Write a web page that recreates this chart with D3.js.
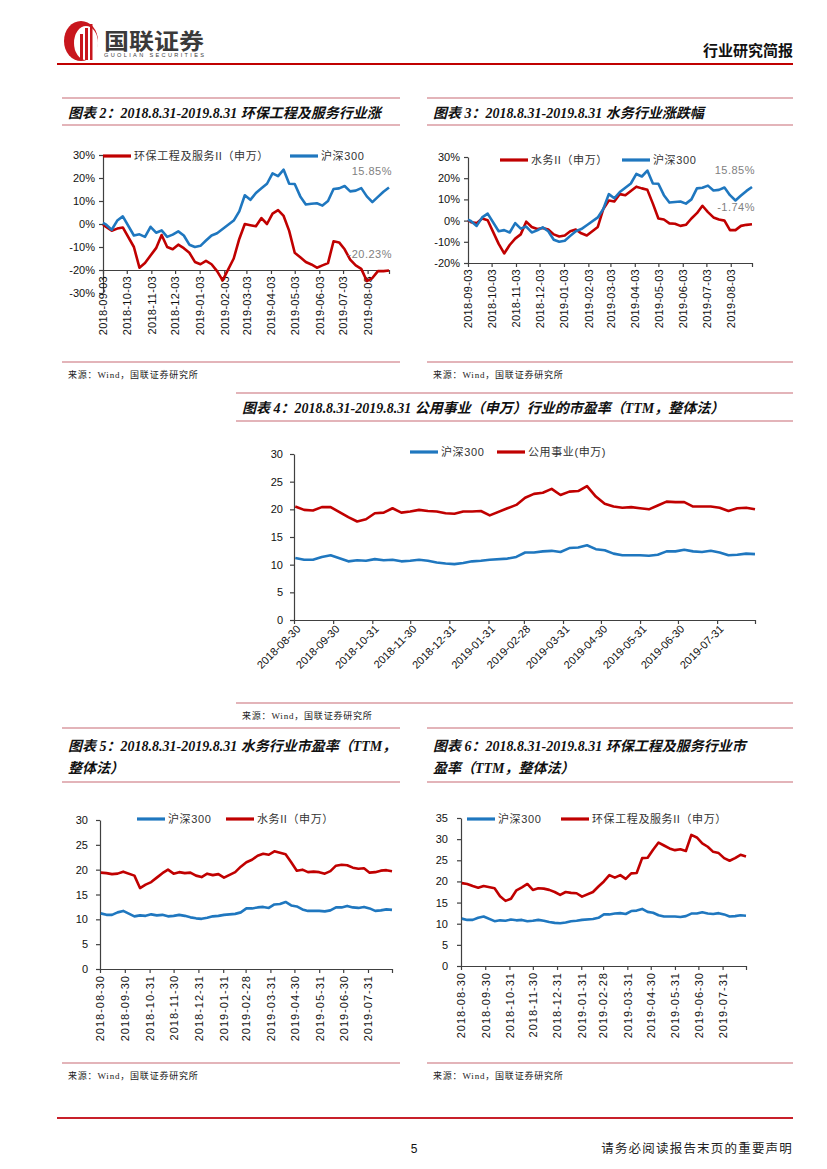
<!DOCTYPE html>
<html>
<head>
<meta charset="utf-8">
<script src="https://cdn.jsdelivr.net/npm/d3@7"></script>
<style>
body { margin: 0; background: #fff; }
svg text { font-family: "Liberation Sans", Arial, "Noto Sans CJK SC", sans-serif; }
</style>
</head>
<body>
<svg id="page" width="827" height="1169"></svg>
<script>
// weekly closes (Fridays, holiday weeks skipped)
var weekEnds = ['2018-09-07', '2018-09-14', '2018-09-21', '2018-09-28', '2018-10-12', '2018-10-19', '2018-10-26',
    '2018-11-02', '2018-11-09', '2018-11-16', '2018-11-23', '2018-11-30', '2018-12-07', '2018-12-14', '2018-12-21',
    '2018-12-28', '2019-01-04', '2019-01-11', '2019-01-18', '2019-01-25', '2019-02-01', '2019-02-15', '2019-02-22',
    '2019-03-01', '2019-03-08', '2019-03-15', '2019-03-22', '2019-03-29', '2019-04-05', '2019-04-12', '2019-04-19',
    '2019-04-26', '2019-05-03', '2019-05-10', '2019-05-17', '2019-05-24', '2019-05-31', '2019-06-07', '2019-06-14',
    '2019-06-21', '2019-06-28', '2019-07-05', '2019-07-12', '2019-07-19', '2019-07-26', '2019-08-02', '2019-08-09',
    '2019-08-16', '2019-08-23', '2019-08-30'];
var retDates = ['2018-09-03'].concat(weekEnds);
var peDates = ['2018-08-31'].concat(weekEnds);

// cumulative return, %
var hs300Ret = [0.5, -0.3, -2.5, 1.5, 3.3, -5.0, -4.5, -5.6, -1.2, -3.8, -2.8, -5.6, -4.6, -3.2, -5.0, -9.0, -10.0,
    -9.5, -7.2, -5.0, -4.0, -2.2, 1.5, 5.5, 12.5, 10.5, 13.5, 15.5, 17.5, 22.0, 20.8, 23.6, 17.5, 17.4, 12.0, 8.5,
    8.8, 9.0, 8.0, 10.0, 15.2, 15.5, 16.5, 14.2, 14.5, 15.6, 12.0, 9.5, 11.8, 14.0, 15.85];
var envRet = [-0.3, -1.3, -2.9, -2.0, -1.5, -10, -19, -17, -13.7, -10.5, -4.8, -10, -11, -9, -10.5, -12.5, -16.5,
    -17.5, -16, -17.5, -20.5, -24.5, -15, -6.5, 0, -0.5, -1, 2.6, 0, 4.5, 6.0, 3.5, -3, -12.5, -14.5, -16.5, -17.6,
    -19, -18, -17, -7.5, -8, -11, -15.5, -18, -19.5, -24.8, -23.5, -20.5, -20.5, -20.23];
var waterRet = [0.3, -0.8, -1.2, 1.0, 0.2, -11, -15.5, -11.5, -8.5, -6.5, -0.5, -3, -4, -3.5, -4.2, -6.5, -7.5, -7,
    -5, -4.2, -6, -7, -3, 5.5, 9.5, 9, 12.5, 12, 14, 16, 15.2, 14.5, 8, 1, 0.5, -1.3, -1.5, -2.5, -2, 1, 3.5, 7, 4,
    1.5, 0.5, 0, -4.5, -4.5, -2.5, -2, -1.74];

// PE (TTM)
var hs300Pe = [11.2, 10.9, 10.9, 11.4, 11.7, 10.6, 10.8, 10.7, 11.0, 10.8, 10.9, 10.6, 10.7, 10.9, 10.7, 10.4, 10.2,
    10.1, 10.3, 10.6, 10.7, 10.9, 11.1, 11.4, 12.2, 12.2, 12.4, 12.5, 12.3, 13.0, 13.1, 13.5, 12.8, 12.6, 12.0, 11.7,
    11.7, 11.7, 11.6, 11.8, 12.4, 12.4, 12.7, 12.4, 12.3, 12.5, 12.2, 11.7, 11.8, 12.0, 11.9];
var utilPe = [20.5, 19.9, 19.8, 20.4, 20.4, 18.6, 17.8, 18.2, 19.3, 19.4, 20.2, 19.4, 19.6, 19.9, 19.7, 19.6, 19.3,
    19.2, 19.6, 19.6, 19.7, 18.9, 20.2, 20.8, 22.1, 22.8, 23.0, 23.7, 22.6, 23.2, 23.3, 24.2, 22.3, 21.0, 20.5, 20.3,
    20.4, 20.2, 20.0, 20.7, 21.4, 21.3, 21.3, 20.5, 20.5, 20.5, 20.3, 19.7, 20.2, 20.3, 20.0];
var waterPe = [19.4, 19.3, 19.1, 19.2, 19.6, 18.8, 16.3, 17.0, 17.5, 18.4, 19.3, 20.0, 19.2, 19.5, 19.3, 19.4, 18.8,
    18.5, 19.2, 18.9, 19.1, 18.4, 19.5, 20.6, 21.5, 22.0, 22.8, 23.2, 23.0, 23.7, 23.4, 23.1, 21.5, 19.8, 20.0, 19.5,
    19.6, 19.5, 19.2, 19.7, 20.8, 21.0, 20.9, 20.4, 20.2, 20.3, 19.4, 19.5, 19.8, 19.9, 19.7];
var envPe = [19.6, 19.4, 18.9, 18.5, 18.9, 18.4, 16.5, 15.4, 15.9, 17.9, 18.6, 19.4, 18.0, 18.4, 18.3, 18.0, 17.5,
    16.8, 17.5, 17.3, 17.2, 16.4, 17.5, 18.8, 20.0, 21.5, 20.9, 21.5, 20.6, 21.9, 22.0, 25.5, 25.6, 27.5, 29.2, 28.5,
    27.8, 27.4, 27.6, 27.2, 31.0, 30.4, 29.0, 28.2, 27.0, 26.7, 25.5, 24.9, 25.5, 26.3, 25.9];

var retTicks = ['2018-09-03', '2018-10-03', '2018-11-03', '2018-12-03', '2019-01-03', '2019-02-03', '2019-03-03',
    '2019-04-03', '2019-05-03', '2019-06-03', '2019-07-03', '2019-08-03'];
var peTicks = ['2018-08-30', '2018-09-30', '2018-10-31', '2018-11-30', '2018-12-31', '2019-01-31', '2019-02-28',
    '2019-03-31', '2019-04-30', '2019-05-31', '2019-06-30', '2019-07-31'];

var hsName = '沪深300';
var envName = '环保工程及服务II（申万）';
var waterName = '水务II（申万）';
var utilName = '公用事业(申万)';
var source = '来源：Wind，国联证券研究所';

var RED = '#c00000', BLUE = '#1f77bf', RULE = '#c86a74';
var CJK = '"Liberation Sans", Arial, "Noto Sans CJK SC", sans-serif';
var TITLE_FONT = '"Liberation Serif", "Times New Roman", "Noto Sans CJK SC", serif';
var parse = d3.timeParse('%Y-%m-%d');
var svg = d3.select('#page');

// ---------- page header / footer ----------
function header() {
    var logo = svg.append('g');
    logo.append('ellipse').attr('cx', 81).attr('cy', 41).attr('rx', 17).attr('ry', 20).attr('fill', '#c8161d');
    logo.append('ellipse').attr('cx', 86).attr('cy', 43).attr('rx', 12).attr('ry', 17).attr('fill', '#fff');
    [[80, 34, 3], [85, 28, 3], [90, 24, 2.5]].forEach(function (b) {
        logo.append('rect').attr('x', b[0]).attr('y', b[1]).attr('width', b[2]).attr('height', 60 - b[1])
            .attr('fill', '#c8161d');
    });
    logo.append('text').attr('x', 104).attr('y', 49).text('国联证券')
        .attr('font-size', 22).attr('font-weight', 'bold').attr('fill', '#3a3a3a')
        .attr('textLength', 100).attr('lengthAdjust', 'spacingAndGlyphs');
    logo.append('text').attr('x', 104).attr('y', 57).text('GUOLIAN SECURITIES')
        .attr('font-size', 5.6).attr('fill', '#3a3a3a').attr('textLength', 100);

    svg.append('text').attr('x', 793).attr('y', 56).attr('text-anchor', 'end').text('行业研究简报')
        .attr('font-size', 15).attr('font-weight', 'bold').attr('fill', '#111').style('font-family', CJK);
    svg.append('line').attr('x1', 57).attr('x2', 793).attr('y1', 64).attr('y2', 64)
        .attr('stroke', '#c00000').attr('stroke-width', 2);

    svg.append('line').attr('x1', 57).attr('x2', 793).attr('y1', 1118).attr('y2', 1118)
        .attr('stroke', '#c8202a').attr('stroke-width', 2);
    svg.append('text').attr('x', 414).attr('y', 1153).attr('text-anchor', 'middle').text('5')
        .attr('font-size', 12).attr('fill', '#111');
    svg.append('text').attr('x', 793).attr('y', 1153).attr('text-anchor', 'end').text('请务必阅读报告末页的重要声明')
        .attr('font-size', 12.5).attr('letter-spacing', 1.2).attr('fill', '#222').style('font-family', CJK);
}

// ---------- box rules, title and source line ----------
function frame(f) {
    [f.top, f.rule, f.src].forEach(function (yy) {
        svg.append('line').attr('x1', f.x0).attr('x2', f.x1).attr('y1', yy).attr('y2', yy)
            .attr('stroke', RULE).attr('stroke-width', 1.2);
    });
    f.title.forEach(function (t, i) {
        svg.append('text').attr('x', f.x0 + 6).attr('y', f.titleY + i * 22).text(t)
            .attr('font-size', 14).attr('font-weight', 'bold').attr('font-style', 'italic')
            .attr('fill', '#111').style('font-family', TITLE_FONT);
    });
    svg.append('text').attr('x', f.x0 + 6).attr('y', f.src + 16).text(source)
        .attr('font-size', 9).attr('letter-spacing', 0.8).attr('fill', '#222')
        .style('font-family', '"Liberation Serif", "Noto Sans CJK SC", serif');
}

// ---------- one line chart ----------
function lineChart(c) {
    var g = svg.append('g');
    var x = d3.scaleTime().domain([parse(c.xDom[0]), parse(c.xDom[1])]).range([c.x0, c.x1]);
    var y = d3.scaleLinear().domain(c.yDom).range([c.yBot, c.yTop]);

    var ya = d3.axisLeft(y).tickValues(c.yTicks).tickSize(4).tickSizeOuter(0).tickPadding(c.yPad)
        .tickFormat(function (d) { return c.pct ? d + '%' : d; });
    var gy = g.append('g').attr('transform', 'translate(' + c.x0 + ',0)').call(ya);
    gy.attr('font-size', 11).attr('font-family', '"Liberation Sans", Arial, sans-serif');
    gy.selectAll('text').attr('fill', '#111');
    gy.selectAll('line, path').attr('stroke', '#404040').attr('stroke-width', 1.2);

    var tickVals = c.ticks.map(parse).concat([parse(c.xDom[1])]);
    var xa = d3.axisBottom(x).tickValues(tickVals).tickSize(4).tickSizeOuter(0)
        .tickFormat(function (d, i) { return i < c.ticks.length ? c.ticks[i] : ''; });
    var gx = g.append('g').attr('transform', 'translate(0,' + y(c.xAt) + ')').call(xa);
    gx.attr('font-size', 11).attr('font-family', '"Liberation Sans", Arial, sans-serif');
    gx.selectAll('line, path').attr('stroke', '#404040').attr('stroke-width', 1.2);
    var lab = gx.selectAll('text').attr('fill', '#111').attr('y', 0).attr('dy', '0.35em')
        .attr('text-anchor', 'end').attr('letter-spacing', c.labSpacing);
    if (c.rot === 45) {
        lab.attr('x', 0).attr('transform', 'translate(4,7) rotate(-45)');
    } else {
        lab.attr('x', -6).attr('transform', 'rotate(-90)');
    }

    var line = d3.line()
        .x(function (d) { return x(d.t); })
        .y(function (d) { return y(d.v); });

    c.series.forEach(function (s, k) {
        var pts = c.dates.map(function (d, i) { return { t: parse(d), v: s.values[i] }; });
        g.append('path').datum(pts).attr('d', line).attr('fill', 'none').attr('stroke', s.color)
            .attr('stroke-width', 2.6).attr('stroke-linejoin', 'round');

        var lx = c.legend[k][0], ly = c.legend[k][1];
        g.append('line').attr('x1', lx).attr('x2', lx + 28).attr('y1', ly).attr('y2', ly)
            .attr('stroke', s.color).attr('stroke-width', 3.2);
        g.append('text').attr('x', lx + 31).attr('y', ly + 4).text(s.name)
            .attr('font-size', 11).attr('letter-spacing', 0.6).attr('fill', '#333').style('font-family', CJK);

        if (c.notes) {
            var last = s.values[s.values.length - 1];
            g.append('text').attr('x', c.x1 + 3).attr('y', y(last) - 13).attr('text-anchor', 'end')
                .text(last.toFixed(2) + '%').attr('font-size', 11).attr('letter-spacing', 0.5)
                .attr('fill', '#7f7f7f');
        }
    });
}

header();

// 图表 2
frame({ x0: 62, x1: 400, top: 98, rule: 125, src: 362, titleY: 118,
    title: ['图表 2：2018.8.31-2019.8.31 环保工程及服务行业涨'] });
lineChart({ x0: 103, x1: 389, yTop: 155, yBot: 293, yDom: [-30, 30], yTicks: [-30, -20, -10, 0, 10, 20, 30],
    yPad: 4, pct: true, xAt: -20, xDom: ['2018-09-03', '2019-08-30'], ticks: retTicks, rot: 90, labSpacing: 0.3,
    dates: retDates, notes: true, legend: [[103, 156], [290, 156]],
    series: [{ name: envName, values: envRet, color: RED }, { name: hsName, values: hs300Ret, color: BLUE }] });

// 图表 3
frame({ x0: 427, x1: 793, top: 98, rule: 125, src: 362, titleY: 118,
    title: ['图表 3：2018.8.31-2019.8.31 水务行业涨跌幅'] });
lineChart({ x0: 468, x1: 752, yTop: 157, yBot: 263, yDom: [-20, 30], yTicks: [-20, -10, 0, 10, 20, 30],
    yPad: 4, pct: true, xAt: -20, xDom: ['2018-09-03', '2019-08-30'], ticks: retTicks, rot: 90, labSpacing: 0.3,
    dates: retDates, notes: true, legend: [[500, 160], [622, 160]],
    series: [{ name: waterName, values: waterRet, color: RED }, { name: hsName, values: hs300Ret, color: BLUE }] });

// 图表 4
frame({ x0: 236, x1: 793, top: 393, rule: 421, src: 703, titleY: 413,
    title: ['图表 4：2018.8.31-2019.8.31 公用事业（申万）行业的市盈率（TTM，整体法）'] });
lineChart({ x0: 294, x1: 755, yTop: 454, yBot: 620, yDom: [0, 30], yTicks: [0, 5, 10, 15, 20, 25, 30],
    yPad: 7, pct: false, xAt: 0, xDom: ['2018-08-30', '2019-08-30'], ticks: peTicks, rot: 45, labSpacing: 0,
    dates: peDates, notes: false, legend: [[410, 452], [497, 452]],
    series: [{ name: hsName, values: hs300Pe, color: BLUE }, { name: utilName, values: utilPe, color: RED }] });

// 图表 5
frame({ x0: 62, x1: 400, top: 728, rule: 782, src: 1063, titleY: 751,
    title: ['图表 5：2018.8.31-2019.8.31 水务行业市盈率（TTM，', '整体法）'] });
lineChart({ x0: 100, x1: 392, yTop: 820, yBot: 969, yDom: [0, 30], yTicks: [0, 5, 10, 15, 20, 25, 30],
    yPad: 8, pct: false, xAt: 0, xDom: ['2018-08-30', '2019-08-30'], ticks: peTicks, rot: 90, labSpacing: 1,
    dates: peDates, notes: false, legend: [[137, 819], [226, 819]],
    series: [{ name: hsName, values: hs300Pe, color: BLUE }, { name: waterName, values: waterPe, color: RED }] });

// 图表 6
frame({ x0: 427, x1: 793, top: 728, rule: 782, src: 1063, titleY: 751,
    title: ['图表 6：2018.8.31-2019.8.31 环保工程及服务行业市', '盈率（TTM，整体法）'] });
lineChart({ x0: 461, x1: 746, yTop: 818, yBot: 966, yDom: [0, 35], yTicks: [0, 5, 10, 15, 20, 25, 30, 35],
    yPad: 9, pct: false, xAt: 0, xDom: ['2018-08-30', '2019-08-30'], ticks: peTicks, rot: 90, labSpacing: 1,
    dates: peDates, notes: false, legend: [[467, 819], [561, 819]],
    series: [{ name: hsName, values: hs300Pe, color: BLUE }, { name: envName, values: envPe, color: RED }] });
</script>
</body>
</html>
